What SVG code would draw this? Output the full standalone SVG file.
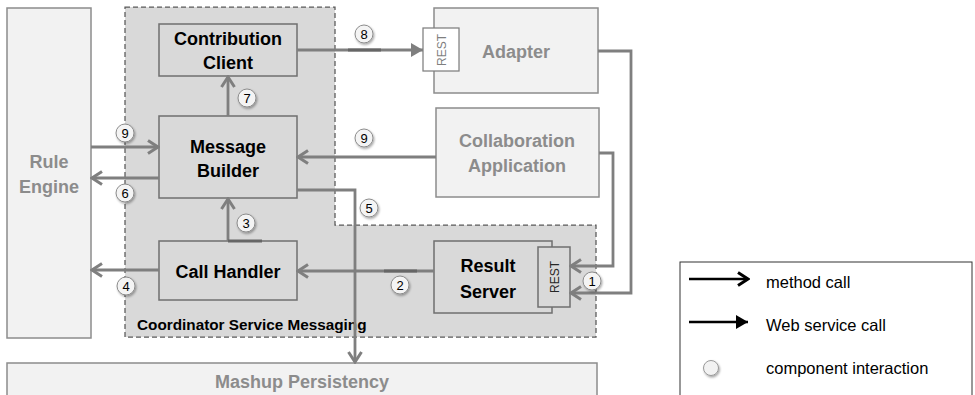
<svg xmlns="http://www.w3.org/2000/svg" width="975" height="395" viewBox="0 0 975 395">
<style>
text{font-family:"Liberation Sans",Arial,sans-serif}
.outer{fill:#f2f2f2;stroke:#8c8c8c;stroke-width:1.5}
.outer-t{fill:#8c8c8c;font-weight:bold;font-size:18px;text-anchor:middle}
.inner{fill:#d9d9d9;stroke:#6f6f6f;stroke-width:1.5}
.inner-t{fill:#000;font-weight:bold;font-size:18px;text-anchor:middle}
.con{fill:none;stroke:#7f7f7f;stroke-width:2.8}
.dk{stroke:#666;stroke-width:3}
.lbl circle{fill:#f4f4f4;stroke:#8c8c8c;stroke-width:1;filter:url(#sh)}
.lbl text{font-size:13px;text-anchor:middle;fill:#000}
.leg{font-size:16.5px;fill:#000}
</style>
<defs>
<filter id="sh" x="-50%" y="-50%" width="200%" height="200%"><feDropShadow dx="1" dy="1.5" stdDeviation="1" flood-color="#000" flood-opacity="0.35"/></filter>
<marker id="op" viewBox="0 0 14 16" refX="12" refY="8" markerWidth="14" markerHeight="16" markerUnits="userSpaceOnUse" orient="auto"><path d="M2,1.5 L12,8 L2,14.5" fill="none" stroke="#7f7f7f" stroke-width="3"/></marker>
<marker id="fi" viewBox="0 0 12 14" refX="12" refY="7" markerWidth="12" markerHeight="14" markerUnits="userSpaceOnUse" orient="auto"><path d="M0,0 L12,7 L0,14 z" fill="#7f7f7f"/></marker>
<marker id="opk" viewBox="0 0 14 16" refX="12" refY="8" markerWidth="14" markerHeight="16" markerUnits="userSpaceOnUse" orient="auto"><path d="M2,1.5 L12,8 L2,14.5" fill="none" stroke="#000" stroke-width="3"/></marker>
<marker id="fik" viewBox="0 0 12 14" refX="12" refY="7" markerWidth="12" markerHeight="14" markerUnits="userSpaceOnUse" orient="auto"><path d="M0,0 L12,7 L0,14 z" fill="#000"/></marker>
</defs>
<rect width="975" height="395" fill="#fff"/>

<g id="rule-engine">
<rect class="outer" x="7" y="8" width="84" height="330"/>
<text class="outer-t" x="49" y="168">Rule</text>
<text class="outer-t" x="49" y="193">Engine</text>
</g>

<g id="coordinator-service-messaging">
<polygon points="125,7 335,7 335,225 596,225 596,337 125,337" fill="#d9d9d9" stroke="#595959" stroke-width="1.25" stroke-dasharray="5,3"/>
<text x="137" y="330" font-size="15.3" font-weight="bold" fill="#000">Coordinator Service Messaging</text>
</g>

<g id="mashup-persistency">
<rect class="outer" x="7" y="363" width="590" height="45"/>
<text class="outer-t" x="302" y="388">Mashup Persistency</text>
</g>

<g id="adapter">
<rect class="outer" x="434" y="8" width="164" height="85"/>
<text class="outer-t" x="516" y="58">Adapter</text>
<rect x="423" y="28" width="36" height="43" fill="#fff" stroke="#7f7f7f" stroke-width="1.25"/>
<text x="0" y="0" transform="translate(446,50) rotate(-90)" font-size="12" fill="#7f7f7f" text-anchor="middle">REST</text>
</g>

<g id="collaboration-application">
<rect class="outer" x="436" y="108" width="163" height="89"/>
<text class="outer-t" x="517" y="147">Collaboration</text>
<text class="outer-t" x="517" y="172">Application</text>
</g>

<g id="contribution-client">
<rect class="inner" x="159" y="24" width="138" height="52"/>
<text class="inner-t" x="228" y="45">Contribution</text>
<text class="inner-t" x="228" y="69">Client</text>
</g>

<g id="message-builder">
<rect class="inner" x="159" y="116" width="138" height="82"/>
<text class="inner-t" x="228" y="153">Message</text>
<text class="inner-t" x="228" y="177">Builder</text>
</g>

<g id="call-handler">
<rect class="inner" x="159" y="241" width="138" height="59"/>
<text class="inner-t" x="228" y="278">Call Handler</text>
</g>

<g id="result-server">
<rect class="inner" x="434" y="241" width="118" height="72"/>
<text class="inner-t" x="488" y="272">Result</text>
<text class="inner-t" x="488" y="298">Server</text>
<rect class="inner" x="538" y="247" width="32" height="60"/>
<text x="0" y="0" transform="translate(559,277) rotate(-90)" font-size="12" fill="#262626" text-anchor="middle">REST</text>
</g>

<g id="connectors">
<path class="con" d="M297,50 H423" marker-end="url(#fi)"/>
<path class="con" d="M228,116 V77" marker-end="url(#op)"/>
<path class="con" d="M91,147 H158" marker-end="url(#op)"/>
<path class="con" d="M159,178 H92" marker-end="url(#op)"/>
<path class="con" d="M436,157 H298" marker-end="url(#op)"/>
<path class="con" d="M297,190 H355 V362" marker-end="url(#op)"/>
<path class="con" d="M228,241 V199" marker-end="url(#op)"/>
<path class="con" d="M159,270 H92" marker-end="url(#op)"/>
<path class="con" d="M434,271 H298" marker-end="url(#op)"/>
<path class="con" d="M599,153 H613 V266 H571" marker-end="url(#op)"/>
<path class="con" d="M598,51 H631 V293 H571" marker-end="url(#op)"/>
<line class="dk" x1="348" y1="50" x2="381" y2="50"/>
<line class="dk" x1="228" y1="241" x2="262" y2="241"/>
<line class="dk" x1="384" y1="271" x2="417" y2="271"/>
</g>

<g id="labels" class="lbl">
<circle cx="364" cy="34" r="9"/><text x="364" y="39">8</text>
<circle cx="247" cy="98" r="9"/><text x="247" y="103">7</text>
<circle cx="125" cy="133" r="9"/><text x="125" y="138">9</text>
<circle cx="364" cy="138" r="9"/><text x="364" y="143">9</text>
<circle cx="125" cy="193" r="9"/><text x="125" y="198">6</text>
<circle cx="369" cy="208" r="9"/><text x="369" y="213">5</text>
<circle cx="246" cy="223" r="9"/><text x="246" y="228">3</text>
<circle cx="126" cy="286" r="9"/><text x="126" y="291">4</text>
<circle cx="400" cy="285" r="9"/><text x="400" y="290">2</text>
<circle cx="592" cy="281" r="9"/><text x="592" y="286">1</text>
</g>

<g id="legend">
<rect x="680" y="262" width="292" height="140" fill="#fff" stroke="#333" stroke-width="1"/>
<line x1="689" y1="279" x2="748" y2="279" stroke="#000" stroke-width="2.5" marker-end="url(#opk)"/>
<text class="leg" x="766" y="288">method call</text>
<line x1="689" y1="322" x2="748" y2="322" stroke="#000" stroke-width="2.5" marker-end="url(#fik)"/>
<text class="leg" x="766" y="331">Web service call</text>
<circle cx="711" cy="368" r="7.5" fill="#f2f2f2" stroke="#999" stroke-width="1" filter="url(#sh)"/>
<text class="leg" x="766" y="374">component interaction</text>
</g>
</svg>
